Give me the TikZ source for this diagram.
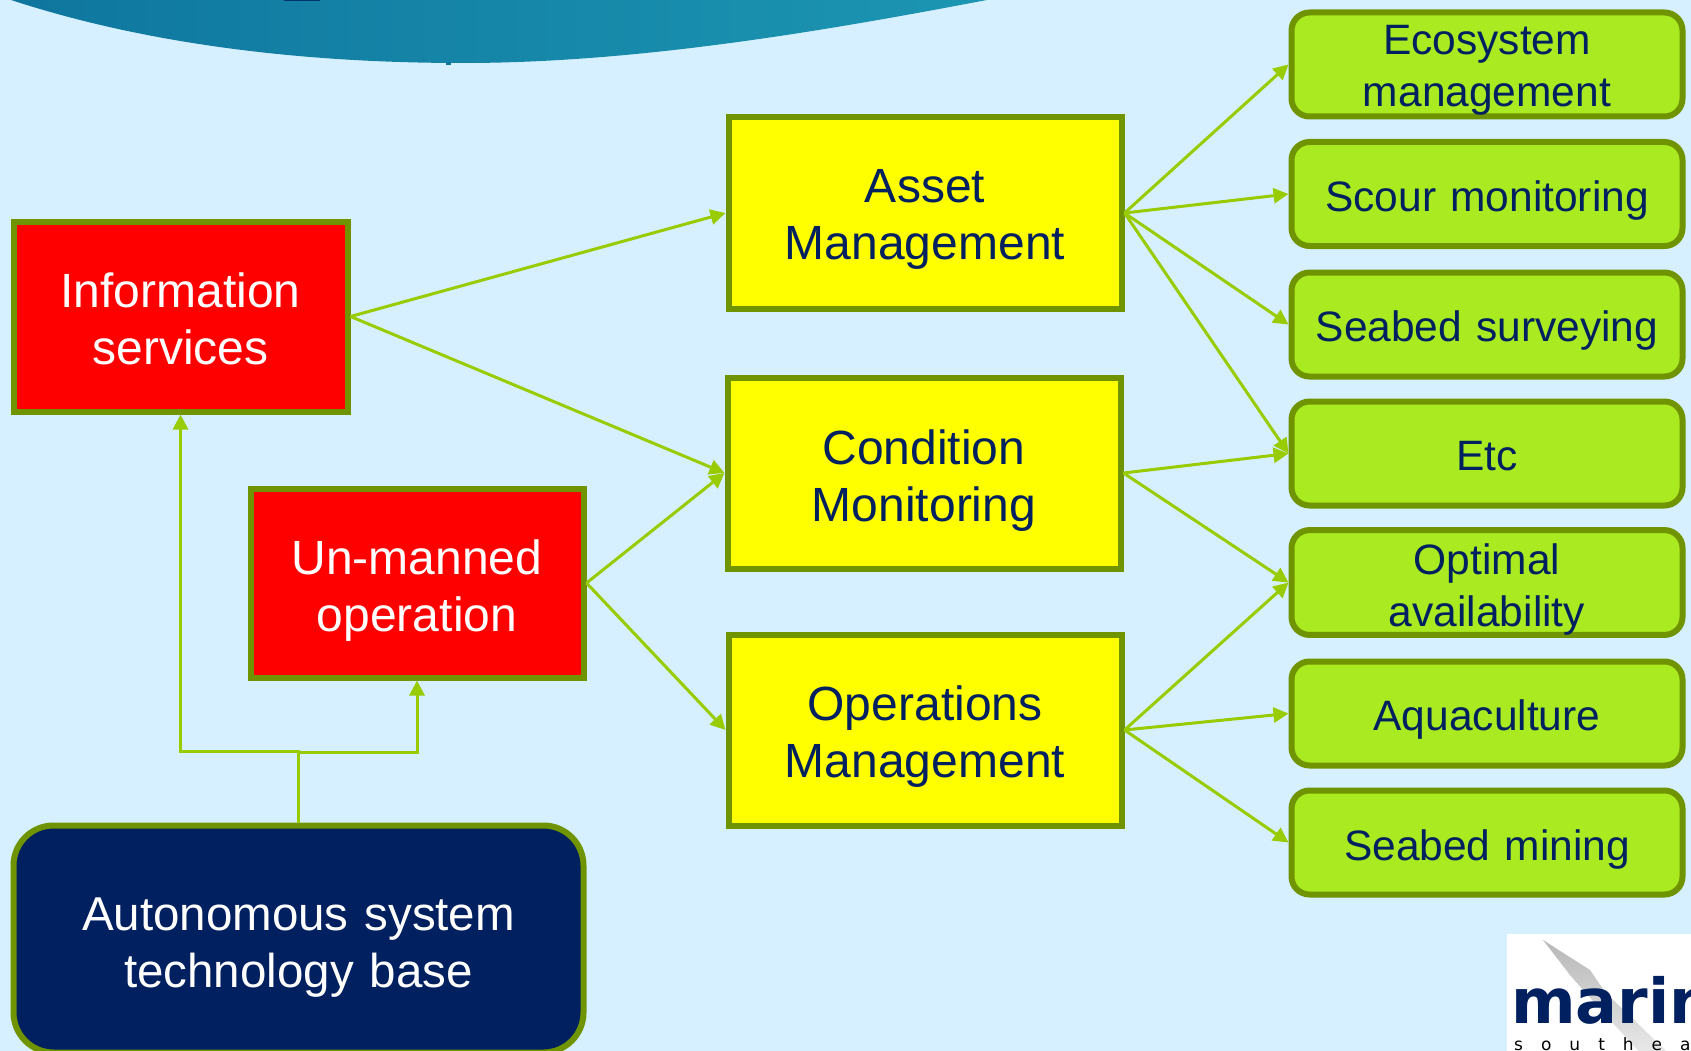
\documentclass[tikz,border=0pt]{standalone}
\usepackage{fontspec}
\setmainfont[WordSpace=0.85]{Liberation Sans}
\newfontfamily\logofont{DejaVu Sans}
\usetikzlibrary{arrows.meta}
\definecolor{bgc}{HTML}{D6F0FF}
\definecolor{edgec}{HTML}{6F9400}
\definecolor{linec}{HTML}{99CC00}
\definecolor{limec}{HTML}{A9EA20}
\definecolor{navyc}{HTML}{002060}
\definecolor{redc}{HTML}{FF0000}
\definecolor{yellowc}{HTML}{FFFF00}
\definecolor{tealL}{HTML}{0F769E}
\definecolor{tealR}{HTML}{1C96B2}
\tikzset{
  x=1pt,y=-1pt,
  basebox/.style={draw=edgec,line width=6pt,align=center,inner sep=0pt,text width=#1},
  firstline/.style={execute at begin node={\rule{0pt}{#1}}},
  redbox/.style={basebox=320pt,fill=redc,text=white,minimum width=334pt,minimum height=190pt,font=\fontsize{48}{57}\selectfont},
  yellowbox/.style={basebox=380pt,fill=yellowc,text=navyc,minimum width=393pt,minimum height=191pt,font=\fontsize{48}{57}\selectfont},
  limebox/.style={basebox=385pt,fill=limec,text=navyc,rounded corners=18pt,minimum width=391pt,minimum height=104pt,font=\fontsize{42.5}{52}\selectfont},
  navybox/.style={basebox=560pt,fill=navyc,text=white,rounded corners=40pt,minimum width=570pt,minimum height=227pt,font=\fontsize{47.5}{57}\selectfont},
  link/.style={draw=linec,line width=3pt,-{Triangle[length=15pt,width=15pt,fill=linec]}}
}
\begin{document}
\begin{tikzpicture}
\useasboundingbox (0,0) rectangle (1691,1051);
\clip (0,0) rectangle (1691,1051);
\fill[bgc] (0,0) rectangle (1691,1051);
% top banner
\shade[left color=tealL,right color=tealR] (8,-1) .. controls (150,46) and (310,63) .. (463,63) .. controls (640,63) and (830,30) .. (992,-1) -- cycle;
\fill[tealL] (446,62) rectangle (451,65);
\fill[navyc!80!tealL] (284,0) rectangle (320,1.5);
% boxes
\node[redbox,firstline=39pt] (info) at (180.5,316.5) {Information\\services};
\node[redbox,firstline=50pt,minimum width=333pt,minimum height=189pt] (un) at (417,583) {Un-manned\\operation};
\node[yellowbox,firstline=46pt] (asset) at (925,213) {Asset\\Management};
\node[yellowbox,firstline=49pt] (cond) at (924,473) {Condition\\Monitoring};
\node[yellowbox,firstline=48pt] (ops) at (925,730) {Operations\\Management};
\node[limebox,firstline=40pt] (g1) at (1487,64.5) {Ecosystem\\management};
\node[limebox,firstline=44pt] (g2) at (1487,194) {Scour monitoring};
\node[limebox,firstline=42pt] (g3) at (1487,324.5) {Seabed surveying};
\node[limebox,firstline=34pt] (g4) at (1487,453.5) {Etc};
\node[limebox,firstline=44pt] (g5) at (1487,582.5) {Optimal\\availability};
\node[limebox,firstline=42pt] (g6) at (1487,713.5) {Aquaculture};
\node[limebox,firstline=44pt] (g7) at (1487,842.5) {Seabed mining};
\node[navybox,firstline=49pt] (auto) at (298.5,939) {Autonomous system\\technology base};
% connectors
\draw[link] (info.east) -- (asset.west);
\draw[link] (info.east) -- (cond.west);
\draw[link] (un.east) -- (cond.west);
\draw[link] (un.east) -- (ops.west);
\foreach \t in {g1,g2,g3,g4} \draw[link] (asset.east) -- (\t.west);
\foreach \t in {g4,g5} \draw[link] (cond.east) -- (\t.west);
\foreach \t in {g5,g6,g7} \draw[link] (ops.east) -- (\t.west);
\coordinate (fork) at (auto.north |- 0,751);
\draw[link] (auto.north) -- (fork) -| (info.south);
\draw[link] (auto.north) -- (fork) -- ++(0,1) -| (un.south);
% logo
\fill[white] (1507,934) rectangle (1691,1051);
\shade[top color=black!28,bottom color=black!5] (1543,940) -- (1590,970) -- (1605,992) -- (1691,1075) -- (1660,1075) -- (1583,990) -- (1570,975) -- cycle;
\node[inner sep=0pt,anchor=base west,text=navyc] (logoA) at (1511,1023) {\logofont\bfseries\fontsize{62}{62}\selectfont marin};
\node[inner sep=0pt,anchor=base west,text=black] (logoB) at (1514,1050) {\logofont\fontsize{17}{17}\selectfont\spaceskip=18pt s o u t h e a};
\end{tikzpicture}
\end{document}
